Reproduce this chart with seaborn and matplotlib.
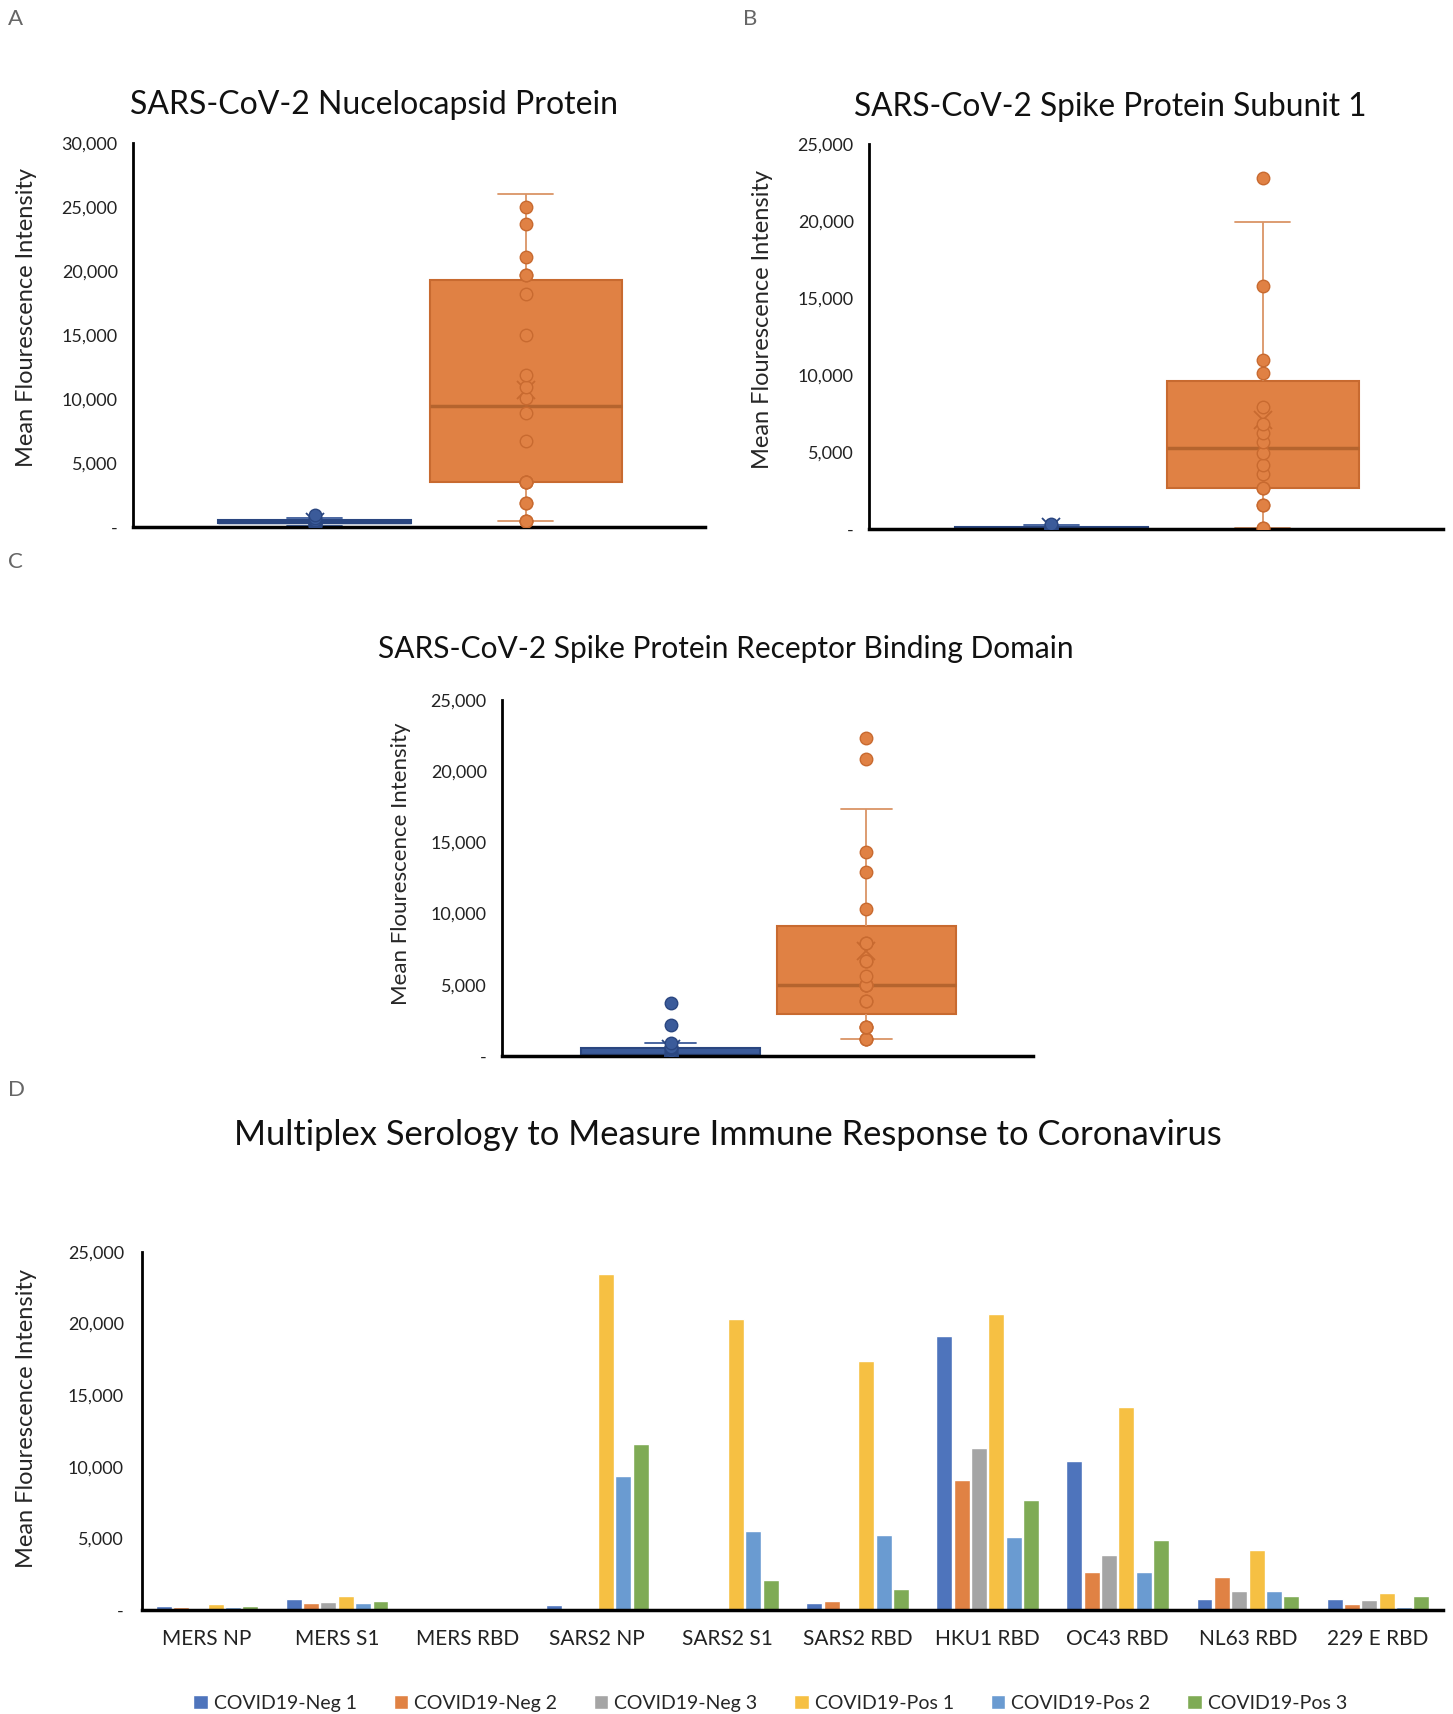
import numpy as np
import pandas as pd
import matplotlib.pyplot as plt
import matplotlib.ticker as mticker
import seaborn as sns

sns.set_style('white')
plt.rcParams['font.family'] = ['Lato', 'DejaVu Sans']

# --- data (MFI values) ---
groups = ['Negative', 'Positive']

nuc_neg = [80, 150, 250, 330, 380, 400, 420, 450, 500, 550, 710, 925]
nuc_pos = [480, 480, 480, 1850, 1850, 3540, 3540, 3540, 3540, 6690, 8930,
           10040, 10970, 11890, 15010, 18180, 19720, 19720, 21090, 23650, 24980, 26030]

s1_neg = [0, 20, 50, 60, 80, 100, 120, 150, 250, 300]
s1_pos = [50, 50, 1535, 1535, 2630, 2630, 3575, 4170, 4930,
          5640, 6250, 6800, 7940, 10130, 10965, 15790, 19960, 22810]

rbd_neg = [0, 0, 0, 0, 0, 10, 20, 40, 60, 100, 200, 350, 500, 550, 600,
           660, 900, 2150, 3740]
rbd_pos = [1210, 1210, 1210, 2040, 2040, 2040, 3860, 3860, 4970, 4970, 4970, 4970,
           5630, 6700, 6700, 7930, 7930, 10300, 12900, 14300, 17375, 20830, 22320]

antigens = ['MERS NP', 'MERS S1', 'MERS RBD', 'SARS2 NP', 'SARS2 S1',
            'SARS2 RBD', 'HKU1 RBD', 'OC43 RBD', 'NL63 RBD', '229 E RBD']
samples = ['COVID19-Neg 1', 'COVID19-Neg 2', 'COVID19-Neg 3',
           'COVID19-Pos 1', 'COVID19-Pos 2', 'COVID19-Pos 3']
neg1 = [280, 770, 0, 350, 0, 490, 19160, 10390, 770, 770]
neg2 = [210, 490, 0, 0, 0, 630, 9050, 2670, 2320, 420]
neg3 = [0, 560, 0, 0, 0, 0, 11300, 3860, 1330, 700]
pos1 = [420, 980, 0, 23440, 20350, 17400, 20700, 14170, 4210, 1190]
pos2 = [210, 490, 0, 9330, 5540, 5260, 5120, 2670, 1330, 210]
pos3 = [280, 630, 0, 11580, 2100, 1470, 7650, 4910, 980, 980]

bar_colors = ['#4E74BC', '#E08244', '#A5A5A5', '#F6C043', '#6A9BD1', '#7FAB55']

W, H = 1453, 1714
fig = plt.figure(figsize=(W / 100, H / 100), dpi=100)


def rect(x0, y0, x1, y1):
    return [x0 / W, 1 - y1 / H, (x1 - x0) / W, (y1 - y0) / H]


def fmt(v, p):
    return '-' if v == 0 else f'{v:,.0f}'


def style_axis(ax, ymax, tick_fs=13, pad=11):
    ax.set_ylim(0, ymax)
    ax.yaxis.set_major_locator(mticker.MultipleLocator(5000))
    ax.yaxis.set_major_formatter(mticker.FuncFormatter(fmt))
    ax.tick_params(axis='y', length=0, labelsize=tick_fs, pad=pad, labelcolor='#222222')
    for s in ['top', 'right']:
        ax.spines[s].set_visible(False)
    ax.spines['left'].set_color('black')
    ax.spines['left'].set_linewidth(2)
    ax.spines['bottom'].set_color('black')
    ax.spines['bottom'].set_linewidth(2.5)


def top_whisker(vals):
    # Excel hides the point sitting under the upper whisker cap
    q1, q3 = np.percentile(vals, [25, 75])
    return max(v for v in vals if v <= q3 + 1.5 * (q3 - q1))


def box_panel(ax, neg, pos, ymax, ylab_fs=17, labelpad=16, ylab_y=0.545):
    df = pd.DataFrame({'group': ['Negative'] * len(neg) + ['Positive'] * len(pos),
                       'mfi': neg + pos})
    looks = {'Negative': ('#3B5B9A', '#2A4680', '#2A4680', '#3B5B9A'),
             'Positive': ('#E08144', '#C86A30', '#B5642E', '#DA9466')}
    for g in groups:
        fill, edge, med, whisk = looks[g]
        sub = df[df['group'] == g]
        sns.boxplot(data=sub, x='group', y='mfi', order=groups, color=fill,
                    saturation=1, width=0.91, linecolor=edge, linewidth=1.5,
                    showfliers=False, showmeans=True, capwidths=0.26,
                    meanprops=dict(marker='x', markeredgecolor=edge,
                                   markersize=13, markeredgewidth=1.3),
                    medianprops=dict(color=med, linewidth=2.5),
                    whiskerprops=dict(color=whisk, linewidth=1.3),
                    capprops=dict(color=whisk, linewidth=1.3), ax=ax)
        pts = sub
        if g == 'Positive':
            pts = sub[sub['mfi'] != top_whisker(sub['mfi'].tolist())]
        sns.stripplot(data=pts, x='group', y='mfi', order=groups, color=fill,
                      edgecolor=edge, linewidth=1, size=9, jitter=False,
                      zorder=3, ax=ax)
    ax.set_xlim(-0.86, 1.85)
    ax.set_xticks([])
    ax.set_xlabel('')
    ax.set_ylabel('Mean Flourescence Intensity', fontsize=ylab_fs,
                  labelpad=labelpad, y=ylab_y)
    style_axis(ax, ymax)


ax_a = fig.add_axes(rect(133, 143, 705, 527))
box_panel(ax_a, nuc_neg, nuc_pos, 30000, labelpad=18)
ax_b = fig.add_axes(rect(869, 144, 1443, 529))
box_panel(ax_b, s1_neg, s1_pos, 25000, labelpad=18)
ax_c = fig.add_axes(rect(502, 700, 1033, 1056))
box_panel(ax_c, rbd_neg, rbd_pos, 25000, ylab_fs=16, labelpad=14, ylab_y=0.54)

# --- panel D: grouped bars ---
bars = pd.DataFrame({'antigen': antigens * 6,
                     'sample': np.repeat(samples, len(antigens)),
                     'mfi': neg1 + neg2 + neg3 + pos1 + pos2 + pos3})
ax_d = fig.add_axes(rect(142, 1252, 1443, 1610))
sns.barplot(data=bars, x='antigen', y='mfi', hue='sample', order=antigens,
            hue_order=samples, palette=bar_colors, saturation=1, width=0.8,
            gap=0.08, errorbar=None, ax=ax_d)
ax_d.set_xlabel('')
ax_d.set_ylabel('Mean Flourescence Intensity', fontsize=17, labelpad=22, y=0.535)
ax_d.tick_params(axis='x', length=0, labelsize=15, pad=14, labelcolor='#222222')
style_axis(ax_d, 25000, pad=13)
handles, labels = ax_d.get_legend_handles_labels()
ax_d.get_legend().remove()
fig.legend(handles, labels, loc='lower center', bbox_to_anchor=(0.53, -0.009),
           ncol=6, frameon=False, fontsize=14, handlelength=0.75,
           handleheight=0.75, handletextpad=0.3, columnspacing=1.9)

# --- titles and panel letters ---
titles = [('SARS-CoV-2 Nucelocapsid Protein', 374, 105, 23),
          ('SARS-CoV-2 Spike Protein Subunit 1', 1110, 107, 22.8),
          ('SARS-CoV-2 Spike Protein Receptor Binding Domain', 726, 649, 21.5),
          ('Multiplex Serology to Measure Immune Response to Coronavirus', 728, 1135, 24.8)]
for txt, x, y, fs in titles:
    fig.text(x / W, 1 - y / H, txt, ha='center', va='center', fontsize=fs, color='#111111')

for lab, x, y in [('A', 8, 19), ('B', 743, 19), ('C', 8, 562), ('D', 8, 1090)]:
    fig.text(x / W, 1 - y / H, lab, ha='left', va='center', fontsize=16,
             color='#666666')

fig.savefig('out.png', dpi=100)
